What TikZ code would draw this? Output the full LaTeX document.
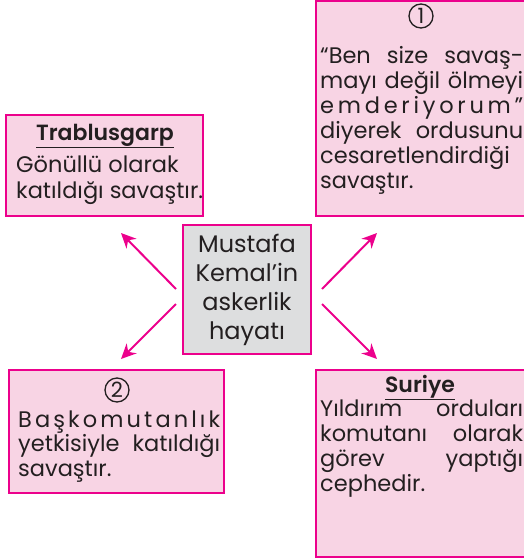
\documentclass[tikz,border=0pt]{standalone}
\usepackage{fontspec}
\setmainfont{Poppins}[BoldFont={Poppins SemiBold}]
\usetikzlibrary{arrows.meta}
\definecolor{mag}{RGB}{236,0,140}
\definecolor{pinkfill}{RGB}{248,212,228}
\definecolor{grayfill}{RGB}{221,222,223}
\definecolor{txt}{RGB}{35,31,32}
\newcommand{\jl}[2]{\makebox[#1][s]{#2}}
\tikzset{
  box/.style={draw=mag, line width=2pt, fill=pinkfill, anchor=north west, outer sep=0pt, inner sep=0pt},
  ln/.style={anchor=base west, inner sep=0pt, text=txt, font=\fontsize{22.5}{27}\selectfont},
  ttl/.style={anchor=base, inner sep=0pt, text=txt, font=\fontsize{22}{27}\selectfont\bfseries},
  arr/.style={draw=mag, line width=2pt, -{Stealth[length=15pt,width=14pt]}},
  num/.style={circle, draw=txt, line width=1.3pt, minimum size=24pt, inner sep=0pt, text=txt, font=\fontsize{21}{21}\selectfont}
}
\begin{document}
\begin{tikzpicture}[x=1pt,y=-1pt]
\useasboundingbox (0,0) rectangle (524,560);
% boxes
\node[box, minimum width=216pt, minimum height=215pt] (b1) at (316,1) {};
\node[box, minimum width=197pt, minimum height=101pt] (b3) at (6,115) {};
\node[box, minimum width=215pt, minimum height=123pt] (b2) at (9,370) {};
\node[box, minimum width=216pt, minimum height=187pt] (b4) at (316,370) {};
\node[draw=mag, line width=2pt, fill=grayfill, anchor=north west, outer sep=0pt, minimum width=128pt, minimum height=129pt, text=txt, align=center, font=\fontsize{24}{29}\selectfont, inner sep=0pt] (c) at (183,225) {Mustafa\\Kemal’in\\askerlik\\hayatı};
% box 1
\node[num] (n1) at (421,16) {1};
\node[ln] (b1l1) at (320,63) {\jl{203pt}{“Ben size savaş-}};
\node[ln] (b1l2) at (320,88) {\jl{203pt}{mayı değil ölmeyi}};
\node[ln] (b1l3) at (320,113) {\jl{203pt}{e\hfill m\hfill d\hfill e\hfill r\hfill i\hfill y\hfill o\hfill r\hfill u\hfill m\hfill ”}};
\node[ln] (b1l4) at (320,138) {\jl{203pt}{diyerek ordusunu}};
\node[ln] (b1l5) at (320,163) {\jl{203pt}{cesaretlendirdiği}};
\node[ln] (b1l6) at (320,188) {savaştır.};
% Trablusgarp
\node[ttl] (b3t) at (105,140) {\underline{Trablusgarp}};
\node[ln] (b3l1) at (16,172) {Gönüllü olarak};
\node[ln] (b3l2) at (16,198) {katıldığı savaştır.};
% box 2
\node[num] (n2) at (117,390) {2};
\node[ln] (b2l1) at (18,427) {\jl{202pt}{B\hfill a\hfill ş\hfill k\hfill o\hfill m\hfill u\hfill t\hfill a\hfill n\hfill l\hfill ı\hfill k}};
\node[ln] (b2l2) at (18,451) {\jl{202pt}{yetkisiyle katıldığı}};
\node[ln] (b2l3) at (18,476) {savaştır.};
% Suriye
\node[ttl] (b4t) at (420,392) {\underline{Suriye}};
\node[ln] (b4l1) at (320,416) {\jl{203pt}{Yıldırım orduları}};
\node[ln] (b4l2) at (320,441) {\jl{203pt}{komutanı olarak}};
\node[ln] (b4l3) at (320,466) {\jl{203pt}{görev yaptığı}};
\node[ln] (b4l4) at (320,491) {cephedir.};
% arrows
\coordinate (ul) at (121,233);
\coordinate (ur) at (377,233);
\coordinate (dl) at (121,359);
\coordinate (dr) at (377,359);
\draw[arr] ([shift={(-7,64)}]c.north west) -- (ul);
\draw[arr] ([shift={(11,64)}]c.north east) -- (ur);
\draw[arr] ([shift={(-7,79)}]c.north west) -- (dl);
\draw[arr] ([shift={(11,79)}]c.north east) -- (dr);
\end{tikzpicture}
\end{document}
